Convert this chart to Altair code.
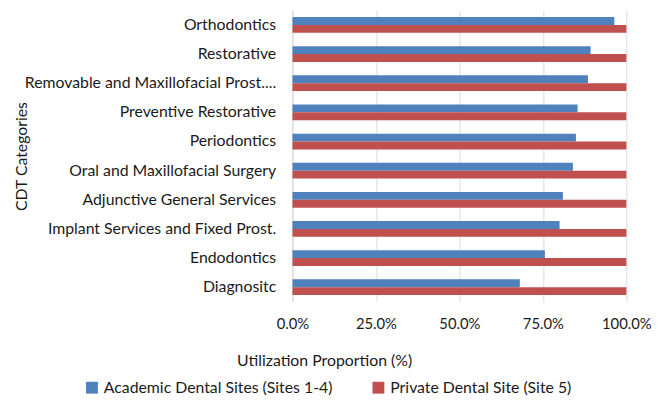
import altair as alt
import pandas as pd

categories = [
    "Orthodontics",
    "Restorative",
    "Removable and Maxillofacial Prost....",
    "Preventive Restorative",
    "Periodontics",
    "Oral and Maxillofacial Surgery",
    "Adjunctive General Services",
    "Implant Services and Fixed Prost.",
    "Endodontics",
    "Diagnositc",
]
academic = [0.964, 0.893, 0.885, 0.854, 0.849, 0.840, 0.810, 0.800, 0.756, 0.681]
private = [1.0, 1.0, 1.0, 1.0, 1.0, 1.0, 1.0, 1.0, 1.0, 1.0]
series = ["Academic Dental Sites (Sites 1-4)", "Private Dental Site (Site 5)"]
colors = ["#4F81BD", "#C0504D"]
x_ticks = [0, 0.25, 0.5, 0.75, 1.0]

rows = []
for c, a, p in zip(categories, academic, private):
    rows.append({"category": c, "series": series[0], "value": a})
    rows.append({"category": c, "series": series[1], "value": p})
df = pd.DataFrame(rows)

FONT = "Lato"
TXT = "#1a1a1a"

chart = alt.Chart(df).mark_bar().encode(
    y=alt.Y(
        "category:N",
        sort=categories,
        scale=alt.Scale(paddingInner=0.46, paddingOuter=0.23),
        axis=alt.Axis(
            title="CDT Categories",
            ticks=False,
            domain=True,
            domainColor="#D9D9D9",
            labelFontSize=16,
            labelPadding=17,
            labelLimit=400,
            labelColor=TXT,
            titleX=-266,
            titleFontSize=16,
            titleFontWeight="normal",
            titleColor=TXT,
        ),
    ),
    yOffset=alt.YOffset("series:N", sort=series),
    x=alt.X(
        "value:Q",
        scale=alt.Scale(domain=[0, 1], nice=False),
        axis=alt.Axis(
            values=x_ticks,
            format=".1%",
            grid=True,
            gridColor="#D9D9D9",
            domain=False,
            ticks=False,
            labelFlush=False,
            labelPadding=15,
            labelFontSize=15,
            labelColor=TXT,
            title="Utilization Proportion (%)",
            titleX=32,
            titleY=60,
            titleAlign="center",
            titleBaseline="middle",
            titleFontSize=16,
            titleFontWeight="normal",
            titleColor=TXT,
        ),
    ),
    color=alt.Color(
        "series:N",
        sort=series,
        scale=alt.Scale(domain=series, range=colors),
        legend=alt.Legend(
            title=None,
            orient="none",
            legendX=-211,
            legendY=374,
            direction="horizontal",
            symbolType="square",
            symbolSize=144,
            symbolStrokeWidth=0,
            labelFontSize=16,
            labelLimit=400,
            labelColor=TXT,
            labelOffset=4,
            columnPadding=38,
            padding=0,
        ),
    ),
).properties(
    width=338,
    height=295,
    autosize=alt.AutoSizeParams(type="none"),
    padding={"left": 288, "top": 0, "right": 27, "bottom": 95},
).configure(font=FONT).configure_view(stroke=None)

chart.save("out.html", embed_options={"renderer": "svg", "actions": False})
